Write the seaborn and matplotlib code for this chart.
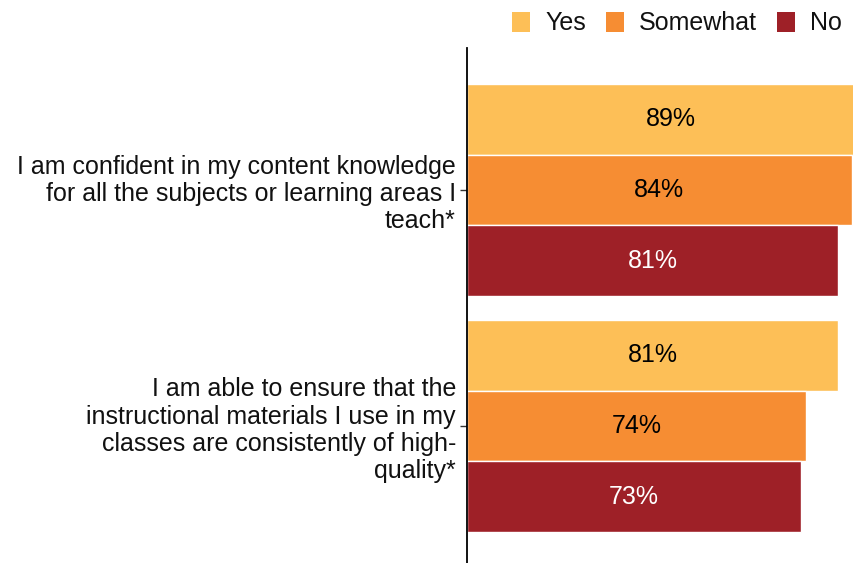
import matplotlib
matplotlib.use("Agg")
import matplotlib.pyplot as plt
import seaborn as sns
import pandas as pd

statements = [
    "I am confident in my content knowledge\nfor all the subjects or learning areas I\nteach*",
    "I am able to ensure that the\ninstructional materials I use in my\nclasses are consistently of high-\nquality*",
]
responses = ["Yes", "Somewhat", "No"]
yes_values = [89, 81]
somewhat_values = [84, 74]
no_values = [81, 73]

colors = ["#FDBF57", "#F68D33", "#9E2027"]
label_colors = ["black", "black", "white"]

df = pd.DataFrame({
    "statement": statements * 3,
    "response": [r for r in responses for _ in statements],
    "value": yes_values + somewhat_values + no_values,
})

sns.set_theme(style="white")
plt.rcParams["font.family"] = ["Liberation Sans", "DejaVu Sans"]
FS = 18

fig = plt.figure(figsize=(8.54, 5.63), dpi=100)
ax = fig.add_axes([467 / 854, 0, 457.8 / 854, (563 - 48) / 563])

sns.barplot(
    data=df, y="statement", x="value", hue="response",
    hue_order=responses, palette=colors, saturation=1, orient="h",
    width=0.9, gap=0, edgecolor="white", linewidth=1, ax=ax,
    legend=False,
)

ax.set_xlim(0, 100)
ax.set_ylim(1.5805, -0.6017)
ax.set_xlabel("")
ax.set_ylabel("")
ax.set_xticks([])
for side in ["top", "right", "bottom"]:
    ax.spines[side].set_visible(False)
ax.spines["left"].set_color("black")
ax.spines["left"].set_linewidth(1.3)
ax.tick_params(axis="y", left=True, length=5, width=1, color="#333333",
               pad=3, labelsize=FS, labelcolor="#111111")
for lbl in ax.get_yticklabels():
    lbl.set_horizontalalignment("right")
    lbl.set_multialignment("right")
    lbl.set_linespacing(1.17)

for container, tc in zip(ax.containers, label_colors):
    ax.bar_label(container, labels=[f"{v:.0f}%" for v in container.datavalues],
                 label_type="center", color=tc, fontsize=FS)

handles = [plt.Rectangle((0, 0), 1, 1, facecolor=c, edgecolor="none") for c in colors]
fig.legend(handles, responses, loc="upper right", bbox_to_anchor=(1.008, 1.013),
           ncol=3, frameon=False, fontsize=FS, handlelength=0.72,
           handleheight=0.85, handletextpad=0.6, columnspacing=0.8,
           borderaxespad=0.35, labelcolor="#111111")

fig.savefig("out.png", dpi=100)
